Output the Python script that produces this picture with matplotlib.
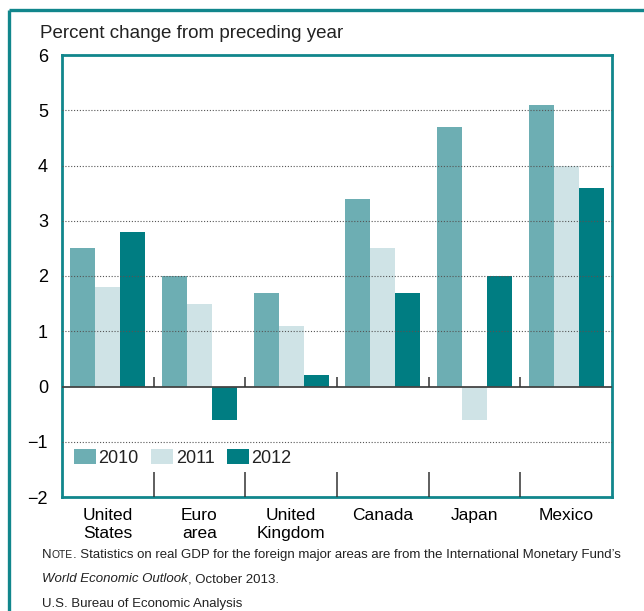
import matplotlib
matplotlib.use("Agg")
import matplotlib.pyplot as plt
from matplotlib.lines import Line2D
import numpy as np

# data
categories = ["United\nStates", "Euro\narea", "United\nKingdom", "Canada", "Japan", "Mexico"]
years = ["2010", "2011", "2012"]
growth_2010 = [2.5, 2.0, 1.7, 3.4, 4.7, 5.1]
growth_2011 = [1.8, 1.5, 1.1, 2.5, -0.6, 4.0]
growth_2012 = [2.8, -0.6, 0.2, 1.7, 2.0, 3.6]
yticks = [-2, -1, 0, 1, 2, 3, 4, 5, 6]

colors = ["#6daeb3", "#cfe3e6", "#007d82"]
teal = "#11868c"

plt.rcParams["font.family"] = ["Liberation Sans", "DejaVu Sans"]
plt.rcParams["text.color"] = "#222222"

W, H = 644, 611
fig = plt.figure(figsize=(W / 100, H / 100), dpi=100)

# outer panel frame (left and top edges visible)
fig.add_artist(Line2D([9 / W, 9 / W], [0, 1 - 10 / H], transform=fig.transFigure,
                      color=teal, lw=2.4, solid_capstyle="butt"))
fig.add_artist(Line2D([9 / W, 1], [1 - 10 / H, 1 - 10 / H], transform=fig.transFigure,
                      color=teal, lw=2.4, solid_capstyle="butt"))

ax = fig.add_axes([62 / W, (H - 497) / H, 550 / W, 442 / H])

x = np.arange(len(categories))
w = 0.272
for i, vals in enumerate([growth_2010, growth_2011, growth_2012]):
    ax.bar(x + (i - 1) * w, vals, width=w, color=colors[i], label=years[i], zorder=1)

ax.set_xlim(-0.5, len(categories) - 0.5)
ax.set_ylim(-2, 6)
ax.set_yticks(yticks)
ax.set_yticklabels([str(t).replace("-", "\u2212") for t in yticks], fontsize=13)
ax.set_xticks(x)
ax.set_xticklabels(categories, fontsize=12.5, linespacing=1.2)
ax.tick_params(axis="both", length=0)
ax.tick_params(axis="y", pad=10)
ax.tick_params(axis="x", pad=8)

# dotted gridlines drawn over the bars
for t in yticks:
    if t in (-2, 0, 6):
        continue
    ax.axhline(t, color="#555555", lw=0.8, ls=(0, (1, 1.6)), zorder=3)
ax.axhline(0, color="#444444", lw=1.3, zorder=4)

# group separators
bounds = x[:-1] + 0.5
ax.vlines(bounds, 0, 0.18, color="#333333", lw=1.1, zorder=4)
ax.vlines(bounds, -2, -1.55, color="#333333", lw=1.1, zorder=4)

for s in ax.spines.values():
    s.set_color(teal)
    s.set_linewidth(2.0)

leg = ax.legend(loc="center left", bbox_to_anchor=(0.022, 0.088), ncol=3, frameon=False,
                fontsize=13, handlelength=1.2, handleheight=0.85, handletextpad=0.15,
                columnspacing=0.7, borderpad=0, borderaxespad=0)

fig.text(40 / W, 1 - 38 / H, "Percent change from preceding year", fontsize=13.5, va="baseline")

# footnote lines, pieces placed one after another on the same baseline
note_size = 9.5
fig.canvas.draw()
renderer = fig.canvas.get_renderer()


def run_of_texts(x0, y0, pieces):
    xpos = x0
    for txt, size, style in pieces:
        t = fig.text(xpos / W, 1 - y0 / H, txt, fontsize=size, style=style, va="baseline")
        xpos = t.get_window_extent(renderer).x1


run_of_texts(42, 558, [("N", note_size, "normal"), ("OTE", note_size * 0.78, "normal"),
                       (". Statistics on real GDP for the foreign major areas are from the "
                        "International Monetary Fund\u2019s", note_size, "normal")])
run_of_texts(42, 582, [("World Economic Outlook", note_size, "italic"),
                       (", October 2013.", note_size, "normal")])
run_of_texts(42, 607, [("U.S. Bureau of Economic Analysis", note_size, "normal")])

fig.savefig("out.png", dpi=100)
